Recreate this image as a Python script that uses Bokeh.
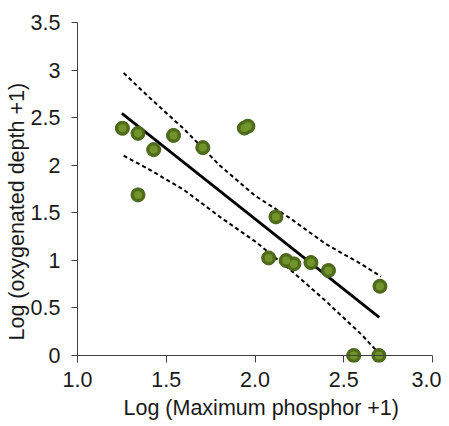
from bokeh.plotting import figure
from bokeh.models import Range1d, FixedTicker, Span, Title
from bokeh.embed import file_html
from bokeh.resources import INLINE

# Data
phosphor = [1.253, 1.341, 1.429, 1.541, 1.706, 1.94, 1.96, 1.341, 2.118,
            2.077, 2.176, 2.219, 2.315, 2.414, 2.704, 2.556, 2.698]
oxy_depth = [2.388, 2.335, 2.164, 2.313, 2.185, 2.39, 2.41, 1.688, 1.457,
             1.026, 0.998, 0.963, 0.977, 0.893, 0.728, 0.0, 0.0]

fit_x = [1.25, 2.70]
fit_y = [2.545, 0.40]

upper_x = [1.26, 1.40, 1.60, 1.80, 2.00, 2.20, 2.40, 2.60, 2.71]
upper_y = [2.97, 2.72, 2.38, 2.00, 1.68, 1.44, 1.17, 0.96, 0.83]
lower_x = [1.26, 1.40, 1.60, 1.80, 2.00, 2.20, 2.40, 2.60, 2.70]
lower_y = [2.10, 1.96, 1.74, 1.46, 1.20, 0.90, 0.57, 0.22, 0.02]

x_ticks = [1.0, 1.5, 2.0, 2.5, 3.0]
x_tick_labels = ["1.0", "1.5", "2.0", "2.5", "3.0"]
y_ticks = [0, 0.5, 1, 1.5, 2, 2.5, 3, 3.5]
y_tick_labels = ["0", "0.5", "1", "1.5", "2", "2.5", "3", "3.5"]

x_title = "Log (Maximum phosphor +1)"
y_title = "Log (oxygenated depth +1)"

FONT = "Liberation Sans"
FS = "21.5px"
AXIS_COLOR = "#404040"
TEXT_COLOR = "#1a1a1a"

p = figure(width=441, height=426, output_backend="svg", toolbar_location=None,
           x_range=Range1d(1.0, 3.0), y_range=Range1d(-0.0735, 3.5),
           min_border_left=77, min_border_right=9, min_border_top=22,
           min_border_bottom=64)
p.outline_line_color = None
p.grid.visible = False
p.background_fill_color = "white"
p.border_fill_color = "white"

# x axis: ticks pointing up from the y=0 line
xa = p.xaxis[0]
xa.ticker = FixedTicker(ticks=x_ticks)
xa.major_label_overrides = dict(zip(x_ticks, x_tick_labels))
xa.axis_line_color = None
xa.major_tick_in = 7
xa.major_tick_out = 0
xa.minor_tick_line_color = None
xa.major_tick_line_color = AXIS_COLOR
xa.major_label_standoff = 9

ya = p.yaxis[0]
ya.ticker = FixedTicker(ticks=y_ticks)
ya.major_label_overrides = dict(zip(y_ticks, y_tick_labels))
ya.axis_line_color = AXIS_COLOR
ya.major_tick_in = 0
ya.major_tick_out = 6
ya.minor_tick_line_color = None
ya.major_tick_line_color = AXIS_COLOR
ya.major_label_standoff = 11

for ax in (xa, ya):
    ax.major_label_text_font = FONT
    ax.major_label_text_font_size = FS
    ax.major_label_text_color = TEXT_COLOR

# axis titles, placed as in the reference
p.add_layout(Title(text=y_title, align="left", offset=22, standoff=-2,
                   text_font=FONT, text_font_size=FS, text_font_style="normal",
                   text_color=TEXT_COLOR), "left")
p.add_layout(Title(text=x_title, align="left", offset=46, standoff=8,
                   text_font=FONT, text_font_size=FS, text_font_style="normal",
                   text_color=TEXT_COLOR), "below")

# x axis line at y = 0
p.add_layout(Span(location=0, dimension="width", line_color=AXIS_COLOR, line_width=1))

p.line(upper_x, upper_y, line_color="black", line_width=2, line_dash="4 3")
p.line(lower_x, lower_y, line_color="black", line_width=2, line_dash="4 3")
p.line(fit_x, fit_y, line_color="black", line_width=2.8)

p.scatter(phosphor, oxy_depth, size=14, fill_color="#4f6d17", line_color="#45601a",
          line_width=1)
p.scatter(phosphor, oxy_depth, size=8, fill_color="#76962f", line_color=None,
          fill_alpha=0.9)

open("out.html", "w").write(file_html(p, INLINE))
